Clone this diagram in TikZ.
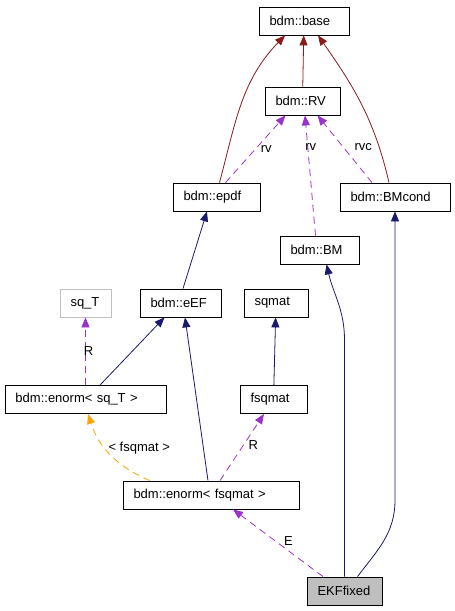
\documentclass[tikz,border=0pt]{standalone}
\usepackage{fontspec}
\setmainfont{Liberation Sans}
\usetikzlibrary{arrows.meta}
\definecolor{inhred}{HTML}{8B1A1A}
\definecolor{inhblue}{HTML}{191970}
\definecolor{usepurple}{HTML}{9A32CD}
\definecolor{tmplorange}{HTML}{FFA500}
\definecolor{boxgray}{HTML}{BFBFBF}

\begin{document}
\begin{tikzpicture}[x=1pt,y=1pt,font=\fontsize{13}{15}\selectfont,
		>={Triangle[length=10pt,width=8pt]}]
			\useasboundingbox (0,0) rectangle (455,-611);
			\begin{scope}[every node/.style={rectangle,draw,line width=0.8pt,minimum height=28pt,
					inner xsep=10.5pt,inner ysep=0pt,align=left}]
				\node [text width=69pt] (base) at (304,-21) {bdm::base};
				\node [text width=54pt] (RV) at (302.5,-101) {bdm::RV};
				\node [text width=66pt] (epdf) at (216.5,-197) {bdm::epdf};
				\node [text width=89pt] (BMcond) at (395,-197) {bdm::BMcond};
				\node [text width=58pt] (BM) at (319.5,-250) {bdm::BM};
				\node [text width=30pt,draw=boxgray] (sqT) at (85.5,-303) {sq\_T};
				\node [text width=60pt] (eEF) at (180.5,-303) {bdm::eEF};
				\node [text width=43pt] (sqmat) at (276,-303) {sqmat};
				\node [text width=140pt] (enormsqT) at (85.5,-399.5) {bdm::enorm< sq\_T >};
				\node [text width=46pt] (fsqmat) at (273.5,-399.5) {fsqmat};
				\node [text width=155pt] (enormfsqmat) at (211,-495) {bdm::enorm< fsqmat >};
				\node [text width=54pt,fill=boxgray] (EKF) at (344.5,-591) {EKFfixed};
			\end{scope}
			
			\begin{scope}[every edge/.style={draw,line width=0.8pt},
				every node/.style={inner sep=1pt},
				tobase/.style={draw=inhred},
				toparent/.style={draw=inhblue},
				member/.style={draw=usepurple,dash pattern=on 7pt off 5pt},
				tmpl/.style={draw=tmplorange,dash pattern=on 7pt off 5pt}]
				\path [->] (RV) edge [tobase] (base);
				\path [->] ([xshift=3pt]epdf.north) edge [tobase,out=75,in=-134] ([xshift=-19pt]base.south);
				\path [->] ([xshift=-6pt]BMcond.north) edge [tobase,out=103,in=-55] ([xshift=14pt]base.south);
				\path [->] ([xshift=9pt]epdf.north) edge [member] node [pos=0.5,right=4pt] {rv} ([xshift=-17pt]RV.south);
				\path [->] ([xshift=-4pt]BM.north) edge [member] node [pos=0.735,xshift=3pt] {rv} ([xshift=2.5pt]RV.south);
				\path [->] ([xshift=-23pt]BMcond.north) edge [member] node [pos=0.53,right=10pt] {rvc} ([xshift=15pt]RV.south);
				\path [->] ([xshift=2.5pt]eEF.north) edge [toparent] ([xshift=-9.5pt]epdf.south);
				\path [->] ([xshift=14.5pt]enormsqT.north) edge [toparent] ([xshift=-16pt]eEF.south);
				\path [->] ([xshift=-3pt]enormfsqmat.north) edge [toparent] ([xshift=4.5pt]eEF.south);
				\path [->] (fsqmat) edge [toparent] (sqmat);
				\path [->] (enormsqT) edge [member] node [xshift=3pt] {R} (sqT);
				\path [->] ([xshift=-61pt]enormfsqmat.north) edge [tmpl,out=157,in=-72] node [pos=0.6,right=2pt] {< fsqmat >} ([xshift=2.5pt]enormsqT.south);
				\path [->] ([xshift=9pt]enormfsqmat.north) edge [member] node [pos=0.53,right=4pt] {R} ([xshift=-9.5pt]fsqmat.south);
				\path [->] ([xshift=-21.5pt]EKF.north) edge [member] node [pos=0.53,right=7.5pt] {E} ([xshift=22pt]enormfsqmat.south);
				\draw [->,toparent,line width=0.8pt] (EKF.north) -- (EKF.north |- 0,-340) to [out=90,in=-77] ([xshift=7pt]BM.south);
				\draw [->,toparent,line width=0.8pt] ([xshift=13pt]EKF.north) to [out=53,in=-90] (BMcond.south |- 0,-500) -- (BMcond.south);
			\end{scope}
		\end{tikzpicture}
\end{document}
